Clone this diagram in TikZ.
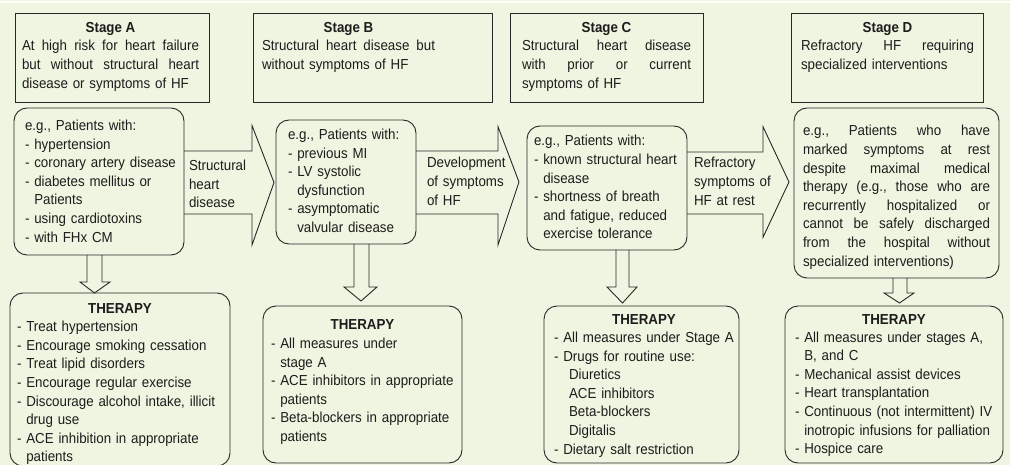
\documentclass[tikz,border=0pt]{standalone}
\usepackage{fontspec}
\setmainfont{Liberation Sans}[FakeStretch=0.92]
\usetikzlibrary{backgrounds}
\definecolor{bg}{RGB}{238,245,224}
\definecolor{lc}{RGB}{40,40,40}
\definecolor{tc}{RGB}{30,28,28}
\newcommand\fsz{\fontsize{14.5pt}{18.6pt}\selectfont\hyphenpenalty=10000\exhyphenpenalty=10000}
\def\jl#1{\jlA#1 \relax}
\def\jlA#1 #2\relax{#1\if\relax\detokenize{#2}\relax\else\hfill\jlA#2\relax\fi}
\newcommand\ind{\hphantom{-\ }}
\begin{document}
\begin{tikzpicture}[x=1pt,y=-1pt,
  sbox/.style={draw=lc, line width=0.9pt, anchor=north west, inner sep=0pt, outer sep=0pt},
  rbox/.style={sbox, rounded corners=13pt},
  txt/.style={anchor=base west, inner sep=0pt, outer sep=0pt, align=left, font=\fsz, text=tc, text width=#1},
  txt/.default=200pt,
  ttl/.style={anchor=base, inner sep=0pt, font=\fsz\bfseries, text=tc},
  barrow/.style={draw=lc, line width=0.9pt, fill=bg, line join=miter}]
\useasboundingbox (0,0) rectangle (1010,465);
% stage boxes
\node[sbox, minimum width=194pt, minimum height=89pt] (sa) at (15,13) {};
\node[sbox, minimum width=239pt, minimum height=89pt] (sb) at (253,13) {};
\node[sbox, minimum width=193pt, minimum height=89pt] (sc) at (510,13) {};
\node[sbox, minimum width=192pt, minimum height=89pt] (sd) at (791,13) {};
\node[ttl] (sat) at (110.5,32.5) {Stage A};
\node[ttl] (sbt) at (348.5,32.5) {Stage B};
\node[ttl] (sct) at (606.5,32.5) {Stage C};
\node[ttl] (sdt) at (887.5,32.5) {Stage D};
\node[txt=177pt] (sad) at (22,51) {\jl{At high risk for heart failure}\\\jl{but without structural heart}\\disease or symptoms of HF};
\node[txt=173pt] (sbd) at (262,51) {\jl{Structural heart disease but}\\without symptoms of HF};
\node[txt=169pt] (scd) at (522,51) {\jl{Structural heart disease}\\\jl{with prior or current}\\symptoms of HF};
\node[txt=173pt] (sdd) at (801,51) {\jl{Refractory HF requiring}\\specialized interventions};
% patient boxes
\node[rbox, minimum width=170pt, minimum height=147pt] (pa) at (14,108) {};
\node[rbox, minimum width=140pt, minimum height=124pt] (pb) at (276,120) {};
\node[rbox, minimum width=160pt, minimum height=124pt] (pc) at (527,126) {};
\node[rbox, minimum width=205pt, minimum height=170pt] (pd) at (794,108) {};
\node[txt] (pat) at (25,130.5) {e.g., Patients with:\\- hypertension\\- coronary artery disease\\- diabetes mellitus or\\\ind Patients\\- using cardiotoxins\\- with FHx CM};
\node[txt] (pbt) at (288,139.5) {e.g., Patients with:\\- previous MI\\- LV systolic\\\ind dysfunction\\- asymptomatic\\\ind valvular disease};
\node[txt] (pct) at (534,146) {e.g., Patients with:\\- known structural heart\\\ind disease\\- shortness of breath\\\ind and fatigue, reduced\\\ind exercise tolerance};
\node[txt=187pt] (pdt) at (803,136) {\jl{e.g., Patients who have}\\\jl{marked symptoms at rest}\\\jl{despite maximal medical}\\\jl{therapy (e.g., those who are}\\\jl{recurrently hospitalized or}\\\jl{cannot be safely discharged}\\\jl{from the hospital without}\\specialized interventions)};
% therapy boxes
\node[rbox, minimum width=220pt, minimum height=173pt] (ta) at (10,293) {};
\node[rbox, minimum width=199pt, minimum height=157pt] (tb) at (263,306) {};
\node[rbox, minimum width=195pt, minimum height=157pt] (tc) at (544,306) {};
\node[rbox, minimum width=218pt, minimum height=157pt] (td) at (785,306) {};
\node[ttl] (tat) at (120,313) {THERAPY};
\node[ttl] (tbt) at (362.5,330) {THERAPY};
\node[ttl] (tct) at (644,324) {THERAPY};
\node[ttl] (tdt) at (894,324) {THERAPY};
\node[txt=210pt] (tax) at (17,331.7) {- Treat hypertension\\- Encourage smoking cessation\\- Treat lipid disorders\\- Encourage regular exercise\\- Discourage alcohol intake, illicit\\\ind drug use\\- ACE inhibition in appropriate\\\ind patients};
\node[txt=190pt] (tbx) at (271,348.5) {- All measures under\\\ind stage A\\- ACE inhibitors in appropriate\\\ind patients\\- Beta-blockers in appropriate\\\ind patients};
\node[txt=185pt] (tcx) at (554,342.5) {- All measures under Stage A\\- Drugs for routine use:\\\hspace*{15pt}Diuretics\\\hspace*{15pt}ACE inhibitors\\\hspace*{15pt}Beta-blockers\\\hspace*{15pt}Digitalis\\- Dietary salt restriction};
\node[txt=205pt] (tdx) at (795,342) {- All measures under stages A,\\\ind B, and C\\- Mechanical assist devices\\- Heart transplantation\\- Continuous (not intermittent) IV\\\ind inotropic infusions for palliation\\- Hospice care};
% arrow labels
\node[txt=100pt] (l1) at (189,170.5) {Structural\\heart\\disease};
\node[txt=100pt] (l2) at (427,168) {Development\\of symptoms\\of HF};
\node[txt=100pt] (l3) at (694,168) {Refractory\\symptoms of\\HF at rest};
\begin{scope}[on background layer]
\fill[bg] (0,0) rectangle (1010,465);
\draw[white, line width=1.5pt] (0,2) -- (1010,2);
% block arrows
\draw[barrow] (pa.east |- 0,151) -- (252,151) -- (252,125.5) -- (274,182.5) -- (252,245) -- (252,214) -- (pa.east |- 0,214);
\draw[barrow] (pb.east |- 0,151) -- (498,151) -- (498,126.7) -- (519,182) -- (498,245) -- (498,214) -- (pb.east |- 0,214);
\draw[barrow] (pc.east |- 0,152) -- (763,152) -- (763,126.7) -- (789,182) -- (763,237.3) -- (763,214) -- (pc.east |- 0,214);
% down arrows
\draw[barrow] (87,0 |- pa.south) -- (87,282) -- (80,282) -- (94.5,0 |- ta.north) -- (110,282) -- (102,282) -- (102,0 |- pa.south);
\draw[barrow] (354,0 |- pb.south) -- (354,287) -- (344,287) -- (361,301) -- (377,287) -- (369,287) -- (369,0 |- pb.south);
\draw[barrow] (616,0 |- pc.south) -- (616,287) -- (607,287) -- (622.5,303) -- (637,287) -- (629,287) -- (629,0 |- pc.south);
\draw[barrow] (893,0 |- pd.south) -- (893,293) -- (884,293) -- (899.5,303) -- (914,293) -- (907,293) -- (907,0 |- pd.south);
\end{scope}
\end{tikzpicture}
\end{document}
